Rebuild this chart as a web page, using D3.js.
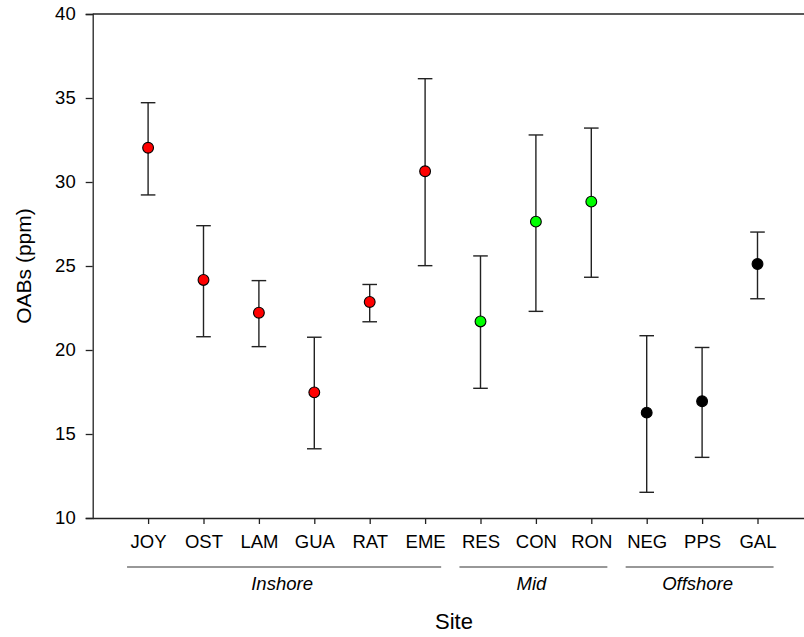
<!DOCTYPE html>
<html>
<head>
<meta charset="utf-8">
<script src="https://cdn.jsdelivr.net/npm/d3@7"></script>
<style>
  html, body { margin: 0; padding: 0; background: #fff; }
  svg { display: block; font-family: "Liberation Sans", Arial, sans-serif; }
</style>
</head>
<body>
<svg id="chart" width="804" height="637"></svg>
<script>
// Site means and error bar limits for OABs (ppm)
const sites = ["JOY", "OST", "LAM", "GUA", "RAT", "EME", "RES", "CON", "RON", "NEG", "PPS", "GAL"];
const means = [32.04, 24.17, 22.22, 17.48, 22.86, 30.64, 21.70, 27.64, 28.83, 16.27, 16.95, 25.12];
const upper = [34.72, 27.40, 24.13, 20.76, 23.90, 36.15, 25.60, 32.80, 33.21, 20.85, 20.15, 27.02];
const lower = [29.23, 20.79, 20.20, 14.12, 21.68, 25.02, 17.72, 22.30, 24.33, 11.53, 13.61, 23.05];
const zone = ["Inshore", "Inshore", "Inshore", "Inshore", "Inshore", "Inshore",
              "Mid", "Mid", "Mid", "Offshore", "Offshore", "Offshore"];
const zones = ["Inshore", "Mid", "Offshore"];
const zoneColors = ["#ff0000", "#00ff00", "#000000"];
const yTicks = [10, 15, 20, 25, 30, 35, 40];

const svg = d3.select("#chart");
const plotLeft = 92.7, plotTop = 14, plotBottom = 518;
const step = 55.4;
const tickFont = 18.5;

// x: category slots, first site sits one slot in from the axis
const x = d3.scaleLinear().domain([0, sites.length + 1]).range([plotLeft, plotLeft + step * (sites.length + 1)]);
const y = d3.scaleLinear().domain([10, 40]).range([plotBottom, plotTop]);
const color = d3.scaleOrdinal().domain(zones).range(zoneColors);

const axisColor = "#222";

// y axis
const yAxis = svg.append("g")
  .attr("transform", `translate(${plotLeft},0)`)
  .call(d3.axisLeft(y).tickValues(yTicks).tickSize(7).tickPadding(10).tickFormat(d3.format("d")));
yAxis.select(".domain").attr("stroke", axisColor).attr("stroke-width", 1.3);
yAxis.selectAll(".tick line").attr("stroke", axisColor).attr("stroke-width", 1.3);
yAxis.selectAll(".tick text").attr("font-size", tickFont).attr("fill", "#000")
  .attr("font-family", "Liberation Sans, Arial, sans-serif");

// x axis
const xAxis = svg.append("g")
  .attr("transform", `translate(0,${plotBottom})`)
  .call(d3.axisBottom(x).tickValues(sites.map((s, i) => i + 1))
    .tickSize(6).tickSizeOuter(0).tickPadding(11).tickFormat(d => sites[d - 1]));
xAxis.select(".domain").attr("stroke", axisColor).attr("stroke-width", 1.3);
xAxis.selectAll(".tick line").attr("stroke", axisColor).attr("stroke-width", 1.3);
xAxis.selectAll(".tick text").attr("font-size", tickFont).attr("fill", "#000")
  .attr("font-family", "Liberation Sans, Arial, sans-serif");

// top frame line
svg.append("line")
  .attr("x1", plotLeft).attr("x2", x.range()[1])
  .attr("y1", y(40)).attr("y2", y(40))
  .attr("stroke", axisColor).attr("stroke-width", 1.3);

// error bars
const capHalf = 7.3;
const eb = svg.append("g").attr("stroke", "#222").attr("stroke-width", 1.4);
sites.forEach((s, i) => {
  const cx = x(i + 1);
  eb.append("line").attr("x1", cx).attr("x2", cx).attr("y1", y(upper[i])).attr("y2", y(lower[i]));
  eb.append("line").attr("x1", cx - capHalf).attr("x2", cx + capHalf).attr("y1", y(upper[i])).attr("y2", y(upper[i]));
  eb.append("line").attr("x1", cx - capHalf).attr("x2", cx + capHalf).attr("y1", y(lower[i])).attr("y2", y(lower[i]));
});

// mean markers
svg.append("g").selectAll("circle").data(sites).join("circle")
  .attr("cx", (d, i) => x(i + 1))
  .attr("cy", (d, i) => y(means[i]))
  .attr("r", 5.4)
  .attr("fill", (d, i) => color(zone[i]))
  .attr("stroke", "#000").attr("stroke-width", 1.1);

// zone grouping lines and labels
const groupY = 567;
zones.forEach(z => {
  const idx = sites.map((s, i) => i).filter(i => zone[i] === z);
  const first = idx[0] + 1, last = idx[idx.length - 1] + 1;
  const x1 = x(first - 0.38), x2 = x(last + 0.29);
  svg.append("line").attr("x1", x1).attr("x2", x2).attr("y1", groupY).attr("y2", groupY)
    .attr("stroke", "#333").attr("stroke-width", 1.2);
  svg.append("text").attr("x", (x1 + x2) / 2 - 2).attr("y", groupY + 23)
    .attr("text-anchor", "middle").attr("font-size", tickFont).attr("font-style", "italic")
    .text(z);
});

// axis titles
svg.append("text").attr("x", 454).attr("y", 629).attr("text-anchor", "middle")
  .attr("font-size", 22).text("Site");
svg.append("text").attr("transform", `translate(31,${(plotTop + plotBottom) / 2}) rotate(-90)`)
  .attr("text-anchor", "middle").attr("font-size", 21).text("OABs (ppm)");
</script>
</body>
</html>
